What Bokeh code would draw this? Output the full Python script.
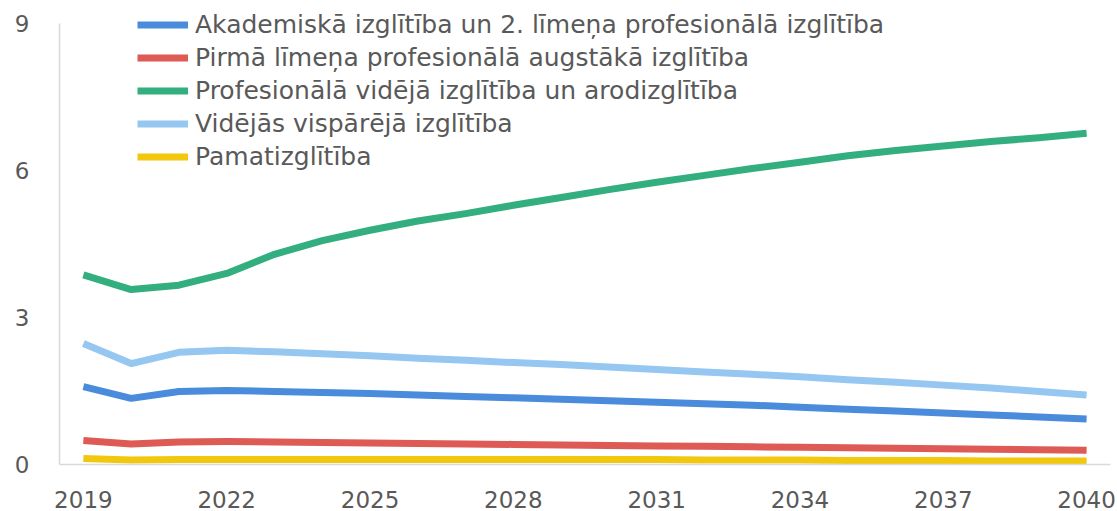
from bokeh.plotting import figure
from bokeh.models import FixedTicker, Legend, LegendItem, Range1d
from bokeh.embed import file_html
from bokeh.resources import INLINE

years = list(range(2019, 2041))
series_names = [
    "Akademiskā izglītība un 2. līmeņa profesionālā izglītība",
    "Pirmā līmeņa profesionālā augstākā izglītība",
    "Profesionālā vidējā izglītība un arodizglītība",
    "Vidējās vispārējā izglītība",
    "Pamatizglītība",
]
akademiska = [1.59, 1.35, 1.49, 1.51, 1.49, 1.47, 1.45, 1.42, 1.39, 1.36, 1.33,
              1.30, 1.27, 1.24, 1.21, 1.17, 1.13, 1.09, 1.05, 1.01, 0.97, 0.93]
pirma = [0.49, 0.42, 0.46, 0.47, 0.46, 0.45, 0.44, 0.43, 0.42, 0.41, 0.40,
         0.39, 0.38, 0.37, 0.36, 0.35, 0.34, 0.33, 0.32, 0.31, 0.30, 0.29]
profesionala = [3.87, 3.57, 3.66, 3.90, 4.29, 4.57, 4.78, 4.97, 5.12, 5.29, 5.45,
                5.61, 5.76, 5.90, 6.04, 6.17, 6.30, 6.41, 6.50, 6.59, 6.67, 6.76]
videjas = [2.47, 2.06, 2.29, 2.33, 2.30, 2.26, 2.22, 2.17, 2.13, 2.08, 2.04,
           1.99, 1.94, 1.89, 1.84, 1.79, 1.73, 1.68, 1.62, 1.56, 1.49, 1.42]
pamata = [0.12, 0.09, 0.10, 0.10, 0.10, 0.10, 0.10, 0.10, 0.10, 0.10, 0.10,
          0.10, 0.10, 0.09, 0.09, 0.09, 0.08, 0.08, 0.08, 0.07, 0.07, 0.07]
colors = ["#4A8BDB", "#DD5A55", "#33AF7F", "#95C7F1", "#F2C80F"]
x_ticks = [2019, 2022, 2025, 2028, 2031, 2034, 2037, 2040]
y_ticks = [0, 3, 6, 9]

FONT = "DejaVu Sans"
TXT = "#595959"

# frame spans the full top so the legend (which sits above the 9 line) is not clipped
y_top = 9 * 464 / 441.0

p = figure(width=1117, height=511, output_backend="svg", toolbar_location=None,
           x_range=Range1d(2018.5, 2040.5), y_range=Range1d(0, y_top),
           min_border_left=59, min_border_right=7, min_border_top=0,
           min_border_bottom=47)
p.outline_line_color = None
p.xgrid.visible = False
p.ygrid.visible = False

renderers = []
for vals, col in zip([akademiska, pirma, profesionala, videjas, pamata], colors):
    r = p.line(years, vals, line_color=col, line_width=7, line_join="round")
    renderers.append(r)

for ax in (p.xaxis, p.yaxis):
    ax.axis_line_color = "#D9D9D9"
    ax.axis_line_width = 1.5
    ax.major_tick_line_color = None
    ax.minor_tick_line_color = None
    ax.major_label_text_font = FONT
    ax.major_label_text_font_size = "23px"
    ax.major_label_text_color = TXT

p.yaxis.bounds = (0, 9)
p.xaxis.ticker = FixedTicker(ticks=x_ticks)
p.yaxis.ticker = FixedTicker(ticks=y_ticks)
p.xaxis.major_label_standoff = 20
p.yaxis.major_label_standoff = 24

legend = Legend(
    items=[LegendItem(label=n, renderers=[r]) for n, r in zip(series_names, renderers)],
    location=(78, 291),
    glyph_width=51, glyph_height=33, label_height=33, spacing=0, padding=0,
    margin=0, label_standoff=7,
    label_text_font=FONT, label_text_font_size="25px", label_text_color=TXT,
    background_fill_alpha=0, border_line_color=None,
)
p.add_layout(legend, "center")

open("out.html", "w").write(file_html(p, INLINE))
